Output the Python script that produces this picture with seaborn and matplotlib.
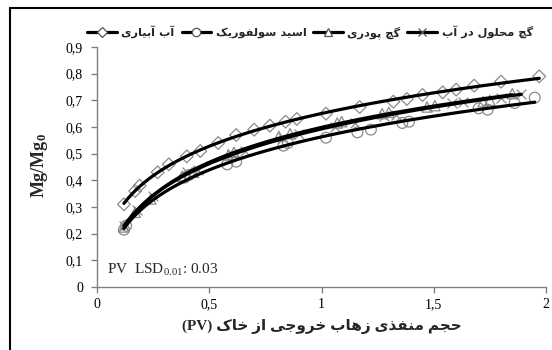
import numpy as np
import pandas as pd
import matplotlib
matplotlib.use("Agg")
import matplotlib.pyplot as plt
from matplotlib.lines import Line2D
import seaborn as sns

# ---------------- data ----------------
series_names = ["آب آبیاری", "اسید سولفوریک", "گچ پودری", "گچ محلول در آب"]
series_markers = ["D", "o", "^", "x"]

x_diamond = [0.12, 0.17, 0.19, 0.27, 0.32, 0.40, 0.46, 0.54, 0.62, 0.70, 0.77, 0.84, 0.89,
             1.02, 1.17, 1.32, 1.38, 1.45, 1.54, 1.60, 1.68, 1.80, 1.97]
y_diamond = [0.31, 0.36, 0.38, 0.43, 0.46, 0.49, 0.51, 0.54, 0.57, 0.59, 0.605, 0.62, 0.63,
             0.65, 0.675, 0.695, 0.705, 0.72, 0.73, 0.74, 0.755, 0.77, 0.79]

x_circle = [0.12, 0.13, 0.39, 0.41, 0.58, 0.62, 0.83, 0.85, 1.02, 1.16, 1.22, 1.36, 1.39,
            1.70, 1.74, 1.86, 1.95]
y_circle = [0.215, 0.23, 0.41, 0.42, 0.46, 0.47, 0.53, 0.54, 0.56, 0.58, 0.59, 0.615, 0.62,
            0.67, 0.665, 0.69, 0.71]

x_triangle = [0.12, 0.17, 0.24, 0.38, 0.43, 0.585, 0.61, 0.81, 0.86, 1.07, 1.09, 1.27, 1.30,
              1.47, 1.505, 1.72, 1.75, 1.85]
y_triangle = [0.225, 0.28, 0.33, 0.415, 0.43, 0.495, 0.505, 0.565, 0.575, 0.615, 0.62, 0.65,
              0.655, 0.675, 0.68, 0.695, 0.70, 0.725]

x_cross = [0.12, 0.18, 0.25, 0.40, 0.45, 0.60, 0.66, 0.83, 0.90, 1.06, 1.15, 1.28, 1.33,
           1.58, 1.63, 1.80, 1.89]
y_cross = [0.23, 0.29, 0.34, 0.43, 0.44, 0.50, 0.51, 0.56, 0.575, 0.60, 0.615, 0.64, 0.645,
           0.69, 0.695, 0.71, 0.725]

x_ticks = [0, 0.5, 1, 1.5, 2]
x_tick_labels = ["0", "0,5", "1", "1,5", "2"]
y_ticks = [0, 0.1, 0.2, 0.3, 0.4, 0.5, 0.6, 0.7, 0.8, 0.9]
y_tick_labels = ["0", "0,1", "0,2", "0,3", "0,4", "0,5", "0,6", "0,7", "0,8", "0,9"]

x_label_fa = "حجم منفذی زهاب خروجی از خاک"
annotation = r"PV  LSD$_{0.01}$: 0.03"

# ------------- simple Persian shaping (matplotlib has no bidi) -------------
FORMS = {
    "ا": ("\uFE8D", "\uFE8E", None, None), "آ": ("\uFE81", "\uFE82", None, None),
    "ب": ("\uFE8F", "\uFE90", "\uFE91", "\uFE92"), "پ": ("\uFB56", "\uFB57", "\uFB58", "\uFB59"),
    "ج": ("\uFE9D", "\uFE9E", "\uFE9F", "\uFEA0"), "چ": ("\uFB7A", "\uFB7B", "\uFB7C", "\uFB7D"),
    "ح": ("\uFEA1", "\uFEA2", "\uFEA3", "\uFEA4"), "خ": ("\uFEA5", "\uFEA6", "\uFEA7", "\uFEA8"),
    "د": ("\uFEA9", "\uFEAA", None, None), "ذ": ("\uFEAB", "\uFEAC", None, None),
    "ر": ("\uFEAD", "\uFEAE", None, None), "ز": ("\uFEAF", "\uFEB0", None, None),
    "س": ("\uFEB1", "\uFEB2", "\uFEB3", "\uFEB4"), "ف": ("\uFED1", "\uFED2", "\uFED3", "\uFED4"),
    "ک": ("\uFB8E", "\uFB8F", "\uFB90", "\uFB91"), "گ": ("\uFB92", "\uFB93", "\uFB94", "\uFB95"),
    "ل": ("\uFEDD", "\uFEDE", "\uFEDF", "\uFEE0"), "م": ("\uFEE1", "\uFEE2", "\uFEE3", "\uFEE4"),
    "ن": ("\uFEE5", "\uFEE6", "\uFEE7", "\uFEE8"), "ه": ("\uFEE9", "\uFEEA", "\uFEEB", "\uFEEC"),
    "و": ("\uFEED", "\uFEEE", None, None), "ی": ("\uFBFC", "\uFBFD", "\uFBFE", "\uFBFF"),
}


def shape(text):
    out = []
    n = len(text)
    for i, ch in enumerate(text):
        if ch not in FORMS:
            out.append(ch)
            continue
        prev = text[i - 1] if i > 0 else None
        nxt = text[i + 1] if i < n - 1 else None
        cp = prev in FORMS and FORMS[prev][2] is not None
        cn = FORMS[ch][2] is not None and nxt in FORMS
        iso, fin, ini, med = FORMS[ch]
        if cp and cn:
            out.append(med)
        elif cp:
            out.append(fin)
        elif cn:
            out.append(ini)
        else:
            out.append(iso)
    return "".join(out)[::-1]


# ---------------- style ----------------
sns.set_theme(style="white")
plt.rcParams["font.family"] = ["Liberation Serif", "DejaVu Sans"]
plt.rcParams["mathtext.fontset"] = "custom"
plt.rcParams["mathtext.rm"] = "Liberation Serif"
plt.rcParams["mathtext.it"] = "Liberation Serif:italic"
plt.rcParams["mathtext.bf"] = "Liberation Serif:bold"

fig = plt.figure(figsize=(5.52, 3.5), dpi=100)
ax = fig.add_axes([97 / 552, 1 - 287 / 350, (546 - 97) / 552, (287 - 47) / 350])

xs = [x_diamond, x_circle, x_triangle, x_cross]
ys = [y_diamond, y_circle, y_triangle, y_cross]
rows = []
for name, xv, yv in zip(series_names, xs, ys):
    for a, b in zip(xv, yv):
        rows.append({"PV": a, "ratio": b, "series": name})
df = pd.DataFrame(rows)

marker_grey = "#8a8a8a"
sizes = {"D": 42, "o": 60, "^": 55, "x": 50}
for name, mk in zip(series_names, series_markers):
    sub = df[df["series"] == name]
    if mk == "x":
        sns.scatterplot(data=sub, x="PV", y="ratio", marker=mk, s=sizes[mk], color=marker_grey,
                        linewidth=0.9, ax=ax, legend=False, zorder=3)
    else:
        ax.scatter(sub["PV"], sub["ratio"], marker=mk, s=sizes[mk], facecolors="none",
                   edgecolors=marker_grey, linewidths=0.9, zorder=3)

# smooth trend lines fitted to each series (quadratic in ln PV)
for name in series_names:
    sub = df[df["series"] == name]
    coef = np.polyfit(np.log(sub["PV"]), sub["ratio"], 2)
    xx = np.linspace(sub["PV"].min(), sub["PV"].max(), 200)
    fit = pd.DataFrame({"PV": xx, "ratio": np.polyval(coef, np.log(xx))})
    sns.lineplot(data=fit, x="PV", y="ratio", color="black", linewidth=2.3, ax=ax,
                 legend=False, zorder=4)

ax.set_xlim(0, 2)
ax.set_ylim(0, 0.9)
ax.set_xticks(x_ticks)
ax.set_xticklabels(x_tick_labels, fontsize=10)
ax.set_yticks(y_ticks)
ax.set_yticklabels(y_tick_labels, fontsize=10)
for s in ["top", "right"]:
    ax.spines[s].set_visible(False)
for s in ["left", "bottom"]:
    ax.spines[s].set_color("#808080")
    ax.spines[s].set_linewidth(1.0)
ax.tick_params(axis="both", direction="out", length=4, width=1, color="#808080",
               colors="black", pad=6, left=True, bottom=True)
ax.tick_params(axis="x", pad=4)
ax.set_xlabel("")
ax.set_ylabel("")

ax.text(0.045, 0.05, annotation, fontsize=11, ha="left", va="baseline")

fig.text(40 / 552, 1 - 165 / 350, r"$\mathbf{Mg/Mg_0}$", rotation=90, ha="center",
         va="center", fontsize=13)
fig.text(322 / 552, 1 - 327 / 350, "(PV) " + shape(x_label_fa), ha="center", va="center",
         fontsize=11, fontweight="bold", family=["Liberation Serif", "DejaVu Sans"])

handles = []
labels = []
for name, mk in zip(series_names, series_markers):
    h = Line2D([0], [0], color="black", linewidth=2.3, marker=mk,
               markersize=6 if mk != "D" else 5, markerfacecolor="white",
               markeredgecolor="#555555", markeredgewidth=0.9)
    handles.append(h)
    labels.append(shape(name))
fig.legend(handles, labels, loc="center", bbox_to_anchor=(310 / 552, 1 - 32 / 350), ncol=4,
           frameon=False, handlelength=2.6, handletextpad=0.4, columnspacing=0.6,
           prop={"family": "DejaVu Sans", "weight": "bold", "size": 8.2})

# outer frame (left and top edges)
fig.add_artist(Line2D([10 / 552, 10 / 552], [0, 1 - 8 / 350], transform=fig.transFigure,
                      color="black", linewidth=1.5))
fig.add_artist(Line2D([10 / 552, 1], [1 - 8 / 350, 1 - 8 / 350], transform=fig.transFigure,
                      color="black", linewidth=1.5))

fig.savefig("out.png", dpi=100)
